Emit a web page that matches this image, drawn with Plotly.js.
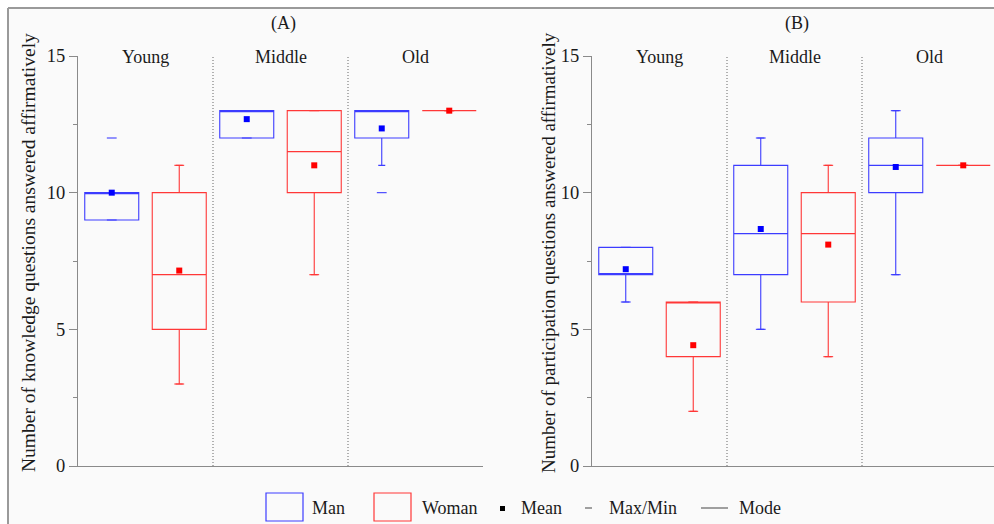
<!DOCTYPE html>
<html><head><meta charset="utf-8">
<script src="https://cdn.plot.ly/plotly-3.0.1.min.js"></script>
<style>html,body{margin:0;padding:0;background:#fff}</style>
</head><body><div id="chart" style="width:994px;height:524px"></div>
<script>
// ---------- data ----------
const groups = ['Young', 'Middle', 'Old'];

// Panel A: knowledge questions
const knowManQ1    = [9, 12, 12];
const knowManQ3    = [10, 13, 13];
const knowManMode  = [10, 13, 13];
const knowManLow   = [9, 12, 11];
const knowManHigh  = [10, 13, 13];
const knowManMean  = [10.0, 12.69, 12.35];
const knowManMax   = [12, 13, 13];
const knowManMin   = [9, 12, 10];

const knowWomQ1    = [5, 10, 13];
const knowWomQ3    = [10, 13, 13];
const knowWomMode  = [7, 11.5, 13];
const knowWomLow   = [3, 7, 13];
const knowWomHigh  = [11, 13, 13];
const knowWomMean  = [7.15, 11.0, 13.0];
const knowWomMax   = [11, 13, 13];
const knowWomMin   = [3, 7, 13];

// Panel B: participation questions
const partManQ1    = [7, 7, 10];
const partManQ3    = [8, 11, 12];
const partManMode  = [7, 8.5, 11];
const partManLow   = [6, 5, 7];
const partManHigh  = [8, 12, 13];
const partManMean  = [7.2, 8.67, 10.94];
const partManMax   = [8, 12, 13];
const partManMin   = [6, 5, 7];

const partWomQ1    = [4, 6, 11];
const partWomQ3    = [6, 10, 11];
const partWomMode  = [6, 8.5, 11];
const partWomLow   = [2, 4, 11];
const partWomHigh  = [6, 11, 11];
const partWomMean  = [4.42, 8.1, 11.0];
const partWomMax   = [6, 11, 11];
const partWomMin   = [2, 4, 11];

const yTicks = [0, 5, 10, 15];

// ---------- styling ----------
const W = 994, H = 524;
const FONT = 'Liberation Serif';
const TXT = '#1a1a1a';
const BLUE_LINE = 'rgb(60,60,255)';
const RED_LINE = 'rgb(255,55,55)';
const BLUE = 'rgb(0,0,255)';
const RED = 'rgb(255,0,0)';
const AXC = '#8a8a8a';
const px = v => v / W;
const py = v => 1 - v / H;

const manPos = groups.map((g, i) => i + 0.25);
const womPos = groups.map((g, i) => i + 0.75);

function boxTrace(pos, q1, med, q3, lo, hi, color, xa, ya) {
  return {
    type: 'box', x: pos, q1: q1, median: med, q3: q3,
    lowerfence: lo, upperfence: hi, width: 0.4, whiskerwidth: 0.13,
    fillcolor: 'rgba(0,0,0,0)', line: {color: color, width: 1.1},
    boxpoints: false, hoverinfo: 'skip', showlegend: false,
    xaxis: xa, yaxis: ya
  };
}
function meanTrace(pos, mean, color, xa, ya) {
  return {type: 'scatter', mode: 'markers', x: pos, y: mean,
    marker: {symbol: 'square', size: 6, color: color},
    hoverinfo: 'skip', showlegend: false, xaxis: xa, yaxis: ya};
}
function mmTrace(pos, mx, mn, color, xa, ya) {
  return {type: 'scatter', mode: 'markers', x: pos.concat(pos), y: mx.concat(mn),
    marker: {symbol: 'line-ew', size: 7, line: {color: color, width: 1.1}},
    hoverinfo: 'skip', showlegend: false, xaxis: xa, yaxis: ya};
}

const data = [
  boxTrace(manPos, knowManQ1, knowManMode, knowManQ3, knowManLow, knowManHigh, BLUE_LINE, 'x', 'y'),
  boxTrace(womPos, knowWomQ1, knowWomMode, knowWomQ3, knowWomLow, knowWomHigh, RED_LINE, 'x', 'y'),
  mmTrace(manPos, knowManMax, knowManMin, BLUE_LINE, 'x', 'y'),
  mmTrace(womPos, knowWomMax, knowWomMin, RED_LINE, 'x', 'y'),
  meanTrace(manPos, knowManMean, BLUE, 'x', 'y'),
  meanTrace(womPos, knowWomMean, RED, 'x', 'y'),
  boxTrace(manPos, partManQ1, partManMode, partManQ3, partManLow, partManHigh, BLUE_LINE, 'x2', 'y2'),
  boxTrace(womPos, partWomQ1, partWomMode, partWomQ3, partWomLow, partWomHigh, RED_LINE, 'x2', 'y2'),
  mmTrace(manPos, partManMax, partManMin, BLUE_LINE, 'x2', 'y2'),
  mmTrace(womPos, partWomMax, partWomMin, RED_LINE, 'x2', 'y2'),
  meanTrace(manPos, partManMean, BLUE, 'x2', 'y2'),
  meanTrace(womPos, partWomMean, RED, 'x2', 'y2')
];

const yDomain = [py(466), py(56)];
function xAx(domain, maxR) {
  return {domain: domain, range: [0, maxR], showline: true, linecolor: AXC, linewidth: 1.2,
    showticklabels: false, ticks: '', showgrid: false, zeroline: false, fixedrange: true};
}
function yAx(anchor) {
  return {domain: yDomain, range: [0, 15], anchor: anchor, tickvals: yTicks,
    ticks: 'outside', ticklen: 8, tickwidth: 1.2, tickcolor: AXC,
    minor: {dtick: 2.5, tick0: 0, ticks: 'outside', ticklen: 4, tickwidth: 1, tickcolor: AXC},
    showline: true, linecolor: AXC, linewidth: 1.2, showgrid: false, zeroline: false,
    tickfont: {family: FONT, size: 18.5, color: TXT}, fixedrange: true};
}

const shapes = [
  {type: 'rect', xref: 'paper', yref: 'paper', x0: px(8), x1: 1.01, y0: -0.01, y1: py(8),
    fillcolor: '#fafafa', line: {width: 0}, layer: 'below'},
  {type: 'line', xref: 'paper', yref: 'paper', x0: px(8), x1: 1.01, y0: py(8), y1: py(8),
    line: {color: '#9a9a9a', width: 2}, layer: 'below'},
  {type: 'line', xref: 'paper', yref: 'paper', x0: px(8), x1: px(8), y0: py(8), y1: -0.01,
    line: {color: '#9a9a9a', width: 2}, layer: 'below'}
];
[1, 2].forEach(k => {
  shapes.push({type: 'line', xref: 'x', yref: 'y', x0: k, x1: k, y0: 0, y1: 15,
    line: {color: '#666', width: 1, dash: '1px,2px'}});
  shapes.push({type: 'line', xref: 'x2', yref: 'y2', x0: k, x1: k, y0: 0, y1: 15,
    line: {color: '#666', width: 1, dash: '1px,2px'}});
});
// legend glyphs
shapes.push({type: 'rect', xref: 'paper', yref: 'paper', x0: px(266), x1: px(303), y0: py(521), y1: py(493),
  line: {color: BLUE_LINE, width: 1.2}, fillcolor: 'rgba(0,0,0,0)'});
shapes.push({type: 'rect', xref: 'paper', yref: 'paper', x0: px(374), x1: px(411), y0: py(521), y1: py(493),
  line: {color: RED_LINE, width: 1.2}, fillcolor: 'rgba(0,0,0,0)'});
shapes.push({type: 'rect', xref: 'paper', yref: 'paper', x0: px(500), x1: px(505), y0: py(511), y1: py(506),
  line: {width: 0}, fillcolor: '#000'});
shapes.push({type: 'line', xref: 'paper', yref: 'paper', x0: px(585), x1: px(592), y0: py(508), y1: py(508),
  line: {color: '#555', width: 1.1}});
shapes.push({type: 'line', xref: 'paper', yref: 'paper', x0: px(701), x1: px(728), y0: py(508), y1: py(508),
  line: {color: '#555', width: 1.1}});

const ann = [];
function txt(text, x, y, opts, size) {
  ann.push(Object.assign({text: text, x: px(x), y: py(y), xref: 'paper', yref: 'paper',
    showarrow: false, xanchor: 'center', yanchor: 'middle',
    font: {family: FONT, size: size || 18, color: TXT}}, opts || {}));
}
txt('(A)', 283, 24);
txt('(B)', 797, 24);
txt('Number of knowledge questions answered affirmatively', 28, 253, {textangle: -90}, 19.5);
txt('Number of participation questions answered affirmatively', 548, 253, {textangle: -90}, 19);
groups.forEach((g, i) => {
  ann.push({text: g, x: i + 0.5, y: 14.97, xref: 'x', yref: 'y', showarrow: false,
    yanchor: 'middle', font: {family: FONT, size: 18, color: TXT}});
  ann.push({text: g, x: i + 0.5, y: 14.97, xref: 'x2', yref: 'y2', showarrow: false,
    yanchor: 'middle', font: {family: FONT, size: 18, color: TXT}});
});
txt('Man', 310, 508, {xanchor: 'left'});
txt('Woman', 420, 508, {xanchor: 'left'});
txt('Mean', 519, 508, {xanchor: 'left'});
txt('Max/Min', 607, 508, {xanchor: 'left'});
txt('Mode', 737, 508, {xanchor: 'left'});

const layout = {
  width: W, height: H, autosize: false,
  margin: {l: 0, r: 0, t: 0, b: 0, pad: 0},
  paper_bgcolor: '#ffffff', plot_bgcolor: 'rgba(0,0,0,0)',
  font: {family: FONT, size: 18, color: TXT},
  showlegend: false, boxmode: 'overlay',
  xaxis: xAx([px(78), px(483)], 3),
  yaxis: yAx('x'),
  xaxis2: xAx([px(592), 1], (994 - 592) / 135),
  yaxis2: yAx('x2'),
  shapes: shapes, annotations: ann
};
layout.xaxis.anchor = 'y';
layout.xaxis2.anchor = 'y2';

Plotly.newPlot('chart', data, layout, {displayModeBar: false});
</script></body></html>
